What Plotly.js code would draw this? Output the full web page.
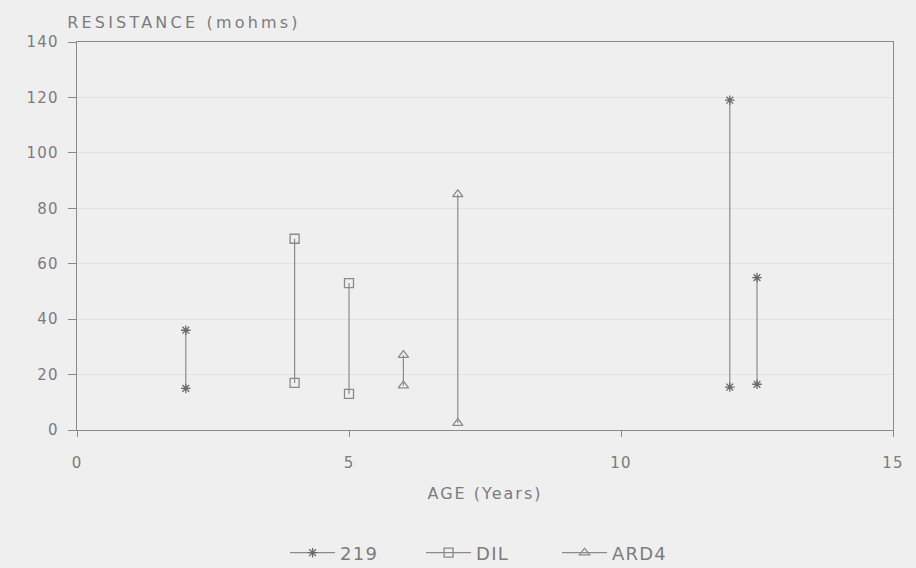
<!DOCTYPE html>
<html><head><meta charset="utf-8">
<script src="https://cdn.plot.ly/plotly-3.0.1.min.js"></script>
<style>
html,body{margin:0;padding:0;background:#efefef}
#chart text{letter-spacing:1.2px}
#chart .annotation-text{letter-spacing:3.2px}
#chart .xtitle{letter-spacing:2px}
</style>
</head><body>
<div id="chart" style="width:916px;height:568px"></div>
<script>
// Data (age in years, resistance in mohms)
const seriesNames = ['219', 'DIL', 'ARD4'];
const age219 = [2, 12, 12.5];
const high219 = [36, 119, 55];
const low219 = [15, 15.5, 16.5];
const ageDIL = [4, 5];
const highDIL = [69, 53];
const lowDIL = [17, 13];
const ageARD4 = [6, 7];
const highARD4 = [27, 85];
const lowARD4 = [16, 2.5];
const xTickVals = [0, 5, 10, 15];
const yTickVals = [0, 20, 40, 60, 80, 100, 120, 140];

const ink = '#8a8a8a';
const textCol = '#7c7c7c';

function pairs(ages, hi, lo) {
  const x = [], y = [];
  ages.forEach((a, i) => { x.push(a, a, null); y.push(hi[i], lo[i], null); });
  return {x, y};
}

const symbols = ['asterisk-open', 'square-open', 'triangle-up-open'];
const sets = [[age219, high219, low219], [ageDIL, highDIL, lowDIL], [ageARD4, highARD4, lowARD4]];
const traces = sets.map((s, k) => {
  const p = pairs(s[0], s[1], s[2]);
  return {
    type: 'scatter', mode: 'lines+markers', name: seriesNames[k],
    x: p.x, y: p.y, connectgaps: false,
    line: {color: ink, width: 1.2},
    marker: {symbol: symbols[k], size: k === 0 ? 8 : 9, color: k === 0 ? '#6a6a6a' : ink, line: {width: 1.3, color: k === 0 ? '#6a6a6a' : ink}}
  };
});

const layout = {
  width: 916, height: 568,
  paper_bgcolor: '#efefef', plot_bgcolor: '#efefef',
  margin: {l: 77, r: 23, t: 42, b: 138, autoexpand: false},
  font: {family: 'DejaVu Sans, sans-serif', size: 15, color: textCol},
  showlegend: true,
  legend: {orientation: 'h', x: 0.255, xanchor: 'left', y: -0.317, yanchor: 'middle',
           itemwidth: 45, entrywidth: 76, entrywidthmode: 'pixels',
           bgcolor: 'rgba(0,0,0,0)', font: {size: 18, color: textCol}},
  xaxis: {
    range: [0, 15], tickvals: xTickVals, ticktext: xTickVals.map(String),
    showline: true, linecolor: ink, linewidth: 1.2, mirror: true,
    ticks: 'outside', ticklen: 6, tickcolor: ink, ticklabelstandoff: 13,
    showgrid: false, zeroline: false, automargin: false,
    title: {text: 'AGE (Years)', font: {size: 16, color: textCol}, standoff: 16}
  },
  yaxis: {
    range: [0, 140], tickvals: yTickVals, ticktext: yTickVals.map(String),
    showline: true, linecolor: ink, linewidth: 1.2, mirror: true,
    ticks: 'outside', ticklen: 8, tickcolor: ink, ticklabelstandoff: 6,
    showgrid: true, gridcolor: '#e2e2e2', gridwidth: 1, zeroline: false, automargin: false
  },
  annotations: [{
    text: 'RESISTANCE (mohms)', xref: 'paper', yref: 'paper', x: 0.131, y: 1.05,
    xanchor: 'center', yanchor: 'middle', showarrow: false,
    font: {size: 16, color: textCol}
  }]
};

Plotly.newPlot('chart', traces, layout, {displayModeBar: false, staticPlot: true});
</script>
</body></html>
